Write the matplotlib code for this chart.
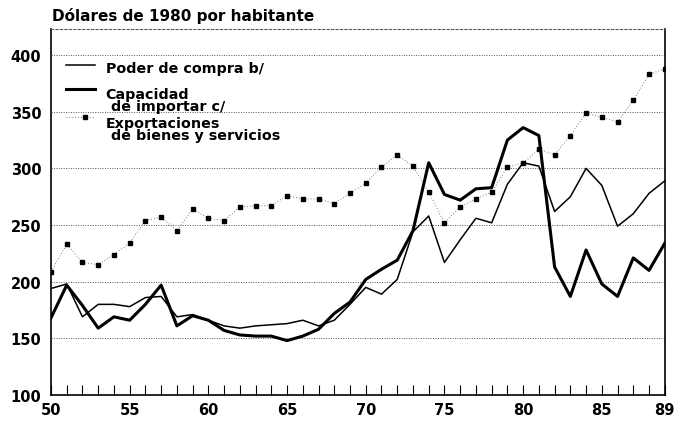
import matplotlib.pyplot as plt
import numpy as np

plt.rcParams['font.family'] = ['DejaVu Sans']
plt.rcParams['font.weight'] = 'bold'

# Years 1950-1989
years = np.arange(1950, 1990)

# Poder de compra b/ (thin line)
poder_compra = [194, 198, 169, 180, 180, 178, 186, 187, 169, 171,
                166, 161, 159, 161, 162, 163, 166, 161, 166, 180,
                195, 189, 202, 244, 258, 217, 237, 256, 252, 286,
                305, 302, 262, 275, 300, 285, 249, 260, 278, 289]

# Capacidad de importar c/ (thick line)
capacidad_importar = [168, 197, 179, 159, 169, 166, 180, 197, 161, 170,
                      166, 157, 153, 152, 152, 148, 152, 158, 172, 182,
                      202, 211, 219, 245, 305, 277, 272, 282, 283, 325,
                      336, 329, 213, 187, 228, 198, 187, 221, 210, 234]

# Exportaciones de bienes y servicios (dotted with markers)
exportaciones = [209, 233, 217, 215, 224, 234, 254, 257, 245, 264,
                 256, 254, 266, 267, 267, 276, 273, 273, 269, 278,
                 287, 301, 312, 302, 279, 252, 266, 273, 279, 301,
                 305, 317, 312, 329, 349, 345, 341, 360, 383, 388]

y_ticks = [100, 150, 200, 250, 300, 350, 400]
x_label_years = [1950, 1955, 1960, 1965, 1970, 1975, 1980, 1985, 1989]

fig = plt.figure(figsize=(6.76, 4.27), dpi=100)
ax = fig.add_axes([0.0754, 0.0726, 0.908, 0.857])

for v in y_ticks[1:]:
    ax.axhline(v, color='#555555', linestyle=(0, (1, 1.5)), linewidth=0.7, zorder=1)

ax.plot(years, exportaciones, color='#555555', linestyle=(0, (1, 2.5)), linewidth=0.6,
        marker='s', markersize=3.2, markerfacecolor='black', markeredgecolor='black', zorder=3)
ax.plot(years, poder_compra, color='black', linewidth=1.1, zorder=4)
ax.plot(years, capacidad_importar, color='black', linewidth=2.2, zorder=5)

ax.set_xlim(1950, 1989)
ax.set_ylim(100, 423)
ax.set_yticks(y_ticks)
ax.set_yticklabels([str(v) for v in y_ticks], fontsize=10.5, fontweight='bold')
ax.set_xticks(years)
ax.set_xticklabels([str(y)[2:] if y in x_label_years else '' for y in years],
                   fontsize=10.5, fontweight='bold')
ax.tick_params(axis='x', direction='in', length=7, width=0.8, pad=5)
ax.tick_params(axis='y', length=0, pad=7)

for s in ['left', 'right', 'bottom']:
    ax.spines[s].set_linewidth(1.2)
ax.spines['top'].set_linestyle((0, (2, 2)))
ax.spines['top'].set_linewidth(0.8)
ax.spines['top'].set_color('#555555')

# Legend drawn by hand
tr = ax.transAxes
ax.plot([0.024, 0.072], [0.902, 0.902], color='black', linewidth=1.1, transform=tr)
ax.plot([0.024, 0.072], [0.837, 0.837], color='black', linewidth=2.2, transform=tr)
ax.plot([0.024, 0.072], [0.760, 0.760], color='#555555', linestyle=(0, (1, 2.5)),
        linewidth=0.6, transform=tr)
ax.plot([0.055], [0.760], marker='s', markersize=3.2, color='black', transform=tr)
ax.text(0.089, 0.894, 'Poder de compra b/', transform=tr, fontsize=10.3,
        fontweight='bold', va='center')
ax.text(0.089, 0.806, 'Capacidad\n de importar c/', transform=tr, fontsize=10.3,
        fontweight='bold', va='center', linespacing=0.85)
ax.text(0.089, 0.727, 'Exportaciones\n de bienes y servicios', transform=tr, fontsize=10.3,
        fontweight='bold', va='center', linespacing=0.85)

fig.text(0.077, 0.962, 'Dólares de 1980 por habitante', fontsize=11,
         fontweight='bold', va='center')

plt.savefig('out.png', dpi=100)
